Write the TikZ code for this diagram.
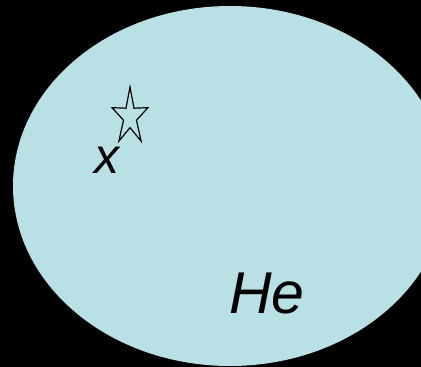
\documentclass[tikz,border=0pt]{standalone}
\usepackage{fontspec}
\setmainfont{Liberation Sans}
\usetikzlibrary{math}
\definecolor{heblue}{RGB}{185,224,228}

\begin{document}
\begin{tikzpicture}[x=1pt,y=-1pt]
\tikzmath{
\W=421;
\H=367;
\cx=230;
\cy=186;
\sx=18.9;
\sy=29.9;
\rin=0.36;
}

\fill[black] (0,0) rectangle (\W,\H);
\begin{scope}
\clip (0,0) rectangle (\W,\H);
\fill[heblue] (\cx,\cy) ellipse [x radius=217, y radius=180];
\end{scope}

% the star
\draw[line width=1.2pt,line join=miter]
  plot[samples at={0,...,9}] ({130+\sx*(mod(\x,2)==0 ? 1 : \rin)*cos(90+36*\x)},
                              {116.9-\sy*(mod(\x,2)==0 ? 1 : \rin)*sin(90+36*\x)}) -- cycle;

\node[anchor=base west,inner sep=0,font=\fontsize{50}{52}\selectfont\itshape] (x) at (94,173) {x};
\node[anchor=base west,inner sep=0,font=\fontsize{59}{62}\selectfont\itshape] (he) at (229,313) {He};
\end{tikzpicture}
\end{document}
